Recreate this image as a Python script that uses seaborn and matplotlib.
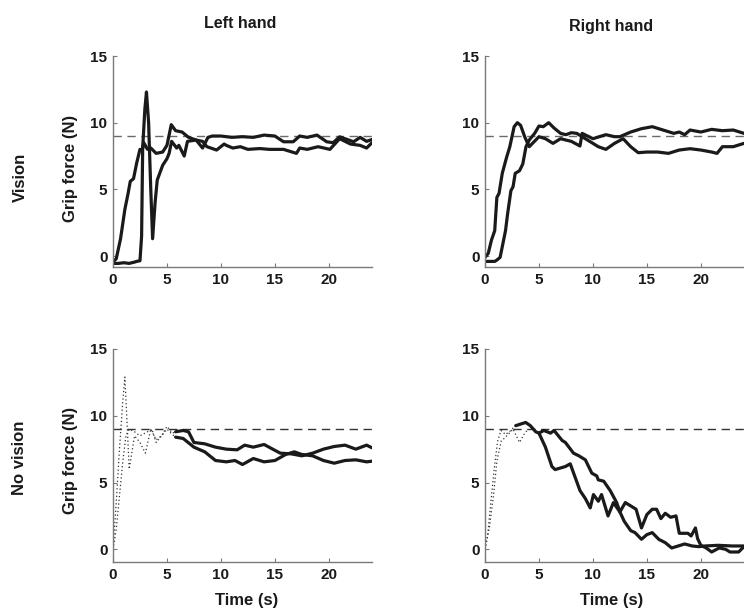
import numpy as np
import pandas as pd
import matplotlib
matplotlib.use("Agg")
import matplotlib.pyplot as plt
import seaborn as sns

# ---------------- data ----------------
target_force = 9.0
x_ticks = [0, 5, 10, 15, 20]
y_ticks = [0, 5, 10, 15]
col_titles = ["Left hand", "Right hand"]
row_titles = ["Vision", "No vision"]

# Vision, left hand
vl1_t = [0, 0.3, 0.7, 1.1, 1.4, 1.6, 1.9, 2.2, 2.5, 2.7, 2.85, 3.2, 3.5, 4.0, 4.6, 5.0, 5.4, 5.8, 6.4, 7.0,
         7.7, 8.3, 8.7, 9.6, 10.3, 10.5, 11.1, 11.8, 12.5, 13.6, 14.5, 15.8, 17.0, 17.3, 18.0, 19.0, 20.1,
         21.0, 22.0, 22.9, 23.5, 24.0]
vl1_y = [-0.45, -0.2, 1.3, 3.5, 4.7, 5.6, 5.8, 7.0, 8.0, 7.9, 8.5, 8.0, 8.1, 7.7, 7.8, 8.3, 9.85, 9.4, 9.3, 8.9,
         8.7, 8.6, 8.2, 7.95, 8.4, 8.3, 8.1, 8.2, 8.0, 8.06, 8.0, 8.0, 7.7, 8.1, 8.0, 8.2, 8.0,
         8.8, 8.4, 8.3, 8.1, 8.5]
vl2_t = [0, 0.5, 1.0, 1.5, 2.0, 2.2, 2.5, 2.65, 2.75, 2.95, 3.1, 3.3, 3.5, 3.67, 3.9, 4.1, 4.6, 5.0, 5.2,
         5.43, 5.9, 6.1, 6.6, 6.9, 7.7, 8.3, 8.8, 9.2, 10.0, 11.0, 12.0, 13.0, 14.0, 15.0, 15.8, 16.7, 17.3,
         18.0, 18.9, 19.8, 20.4, 21.0, 22.3, 22.9, 23.5, 24.0]
vl2_y = [-0.55, -0.55, -0.5, -0.55, -0.45, -0.4, -0.35, 1.5, 8.1, 11.0, 12.3, 10.0, 5.0, 1.3, 4.0, 5.7, 6.8, 7.3, 7.7,
         8.6, 8.1, 8.3, 7.5, 8.6, 8.7, 8.1, 8.9, 9.0, 9.0, 8.9, 8.95, 8.9, 9.07, 9.0, 8.57, 8.57, 9.0,
         8.9, 9.07, 8.57, 8.5, 8.94, 8.57, 8.9, 8.6, 8.74]

# Vision, right hand
vr1_t = [0, 0.3, 0.6, 0.9, 1.1, 1.3, 1.6, 2.0, 2.3, 2.7, 3.0, 3.3, 3.7, 4.1, 4.4, 5.0, 5.6, 6.3, 7.0, 8.0,
         8.8, 9.0, 10.0, 11.2, 12.0, 12.5, 13.5, 14.5, 15.5, 16.5, 17.5, 18.0, 18.5, 19.0, 20.0, 21.0, 22.0,
         23.0, 24.0]
vr1_y = [-0.1, 0.2, 1.2, 1.9, 4.4, 4.7, 6.2, 7.4, 8.2, 9.7, 10.0, 9.8, 8.9, 8.2, 8.45, 8.95, 8.8, 8.45, 8.8, 8.6,
         8.25, 9.2, 8.8, 9.1, 8.95, 8.95, 9.3, 9.55, 9.7, 9.45, 9.2, 9.3, 9.1, 9.45, 9.3, 9.5, 9.4,
         9.45, 9.2]
vr2_t = [0, 0.5, 0.9, 1.1, 1.4, 1.6, 1.9, 2.1, 2.4, 2.6, 2.8, 3.2, 3.5, 3.8, 4.1, 4.6, 5.0, 5.4, 5.9, 6.4,
         7.0, 7.5, 8.0, 8.5, 9.5, 10.5, 11.2, 12.0, 12.8, 13.5, 14.2, 15.0, 16.0, 17.0, 18.0, 19.0, 20.0,
         21.0, 21.5, 22.0, 23.0, 24.0]
vr2_y = [-0.4, -0.4, -0.4, -0.3, -0.1, 0.7, 1.9, 3.2, 4.9, 5.2, 6.2, 6.4, 6.9, 8.2, 8.7, 9.2, 9.75, 9.7, 10.0, 9.6,
         9.2, 9.1, 9.25, 9.2, 8.7, 8.2, 8.0, 8.45, 8.8, 8.2, 7.75, 7.8, 7.8, 7.7, 7.95, 8.05, 7.95,
         7.8, 7.7, 8.2, 8.2, 8.45]

# No vision, left hand (dotted early part, solid later part)
nl1_dot_t = [0, 0.3, 0.6, 0.9, 1.1, 1.3, 1.5, 2.0, 2.5, 3.0, 3.5, 4.0, 4.5, 5.0, 5.5, 5.8]
nl1_dot_y = [0, 3.5, 7.5, 11.0, 12.9, 9.5, 6.0, 8.5, 8.0, 7.2, 9.0, 8.2, 8.5, 9.2, 8.7, 8.8]
nl2_dot_t = [0, 0.3, 0.6, 0.9, 1.2, 1.5, 2.0, 2.5, 3.2, 3.6, 4.0, 4.5, 5.0, 5.5, 5.8]
nl2_dot_y = [0, 1.5, 4.0, 6.5, 8.5, 9.0, 8.8, 8.5, 8.8, 9.0, 8.0, 8.5, 9.0, 8.6, 8.4]
nl1_t = [5.8, 6.5, 7.0, 7.5, 8.5, 9.5, 10.5, 11.5, 12.2, 13.0, 14.0, 14.8, 15.5, 16.5, 17.5, 18.5, 19.5,
         20.5, 21.5, 22.5, 23.5, 24.0]
nl1_y = [8.8, 8.9, 8.8, 8.0, 7.9, 7.65, 7.5, 7.45, 7.8, 7.65, 7.85, 7.5, 7.2, 7.15, 7.0, 7.2, 7.5,
         7.7, 7.8, 7.5, 7.8, 7.6]
nl2_t = [5.8, 6.5, 7.5, 8.5, 9.5, 10.5, 11.3, 12.0, 13.0, 14.0, 15.0, 16.0, 16.8, 17.5, 18.5, 19.5, 20.5,
         21.5, 22.5, 23.5, 24.0]
nl2_y = [8.4, 8.3, 7.65, 7.3, 6.65, 6.55, 6.65, 6.35, 6.8, 6.55, 6.65, 7.1, 7.3, 7.1, 7.0, 6.65, 6.45,
         6.65, 6.7, 6.55, 6.6]

# No vision, right hand
nr1_dot_t = [0, 0.25, 0.55, 0.86, 1.17, 1.48, 1.9, 2.4, 2.85]
nr1_dot_y = [0, 1.1, 3.6, 6.1, 8.1, 8.9, 8.6, 8.9, 9.3]
nr2_dot_t = [0, 0.4, 0.8, 1.1, 1.5, 1.9, 2.6, 3.2, 3.6, 4.0]
nr2_dot_y = [0, 1.6, 4.1, 6.6, 8.1, 8.4, 9.0, 8.0, 8.6, 9.0]
nr1_t = [2.85, 3.77, 4.2, 4.7, 5.0, 5.6, 6.2, 6.5, 7.45, 7.9, 8.8, 9.3, 9.75, 10.05, 10.5, 10.8, 11.4,
         11.9, 12.5, 13.0, 13.8, 14.0, 14.5, 15.0, 15.5, 15.9, 16.3, 16.7, 17.2, 17.7, 18.0, 18.8, 19.1,
         19.5, 19.7, 20.0, 20.5, 21.0, 21.7, 22.3, 22.7, 23.5, 24.0]
nr1_y = [9.26, 9.5, 9.26, 8.8, 8.7, 7.65, 6.2, 5.97, 6.2, 6.4, 4.4, 3.8, 3.1, 4.1, 3.6, 4.1, 2.5,
         3.5, 2.8, 3.5, 3.1, 3.0, 1.6, 2.6, 3.0, 3.0, 2.3, 2.7, 2.4, 2.5, 1.2, 1.2, 1.0,
         1.6, 0.8, 0.3, 0.1, -0.2, 0.1, 0.0, -0.2, -0.2, 0.2]
nr2_t = [5.0, 5.45, 6.07, 6.4, 7.15, 7.45, 8.2, 8.7, 9.3, 9.9, 10.35, 10.5, 11.0, 11.6, 12.2, 12.5, 12.9,
         13.5, 13.9, 14.5, 15.0, 15.5, 16.1, 16.7, 17.3, 17.9, 18.5, 19.2, 19.8, 20.4, 21.6, 22.9, 24.0]
nr2_y = [8.7, 8.9, 8.7, 8.9, 8.15, 8.0, 7.2, 7.0, 6.7, 5.7, 5.5, 5.2, 5.1, 4.4, 3.5, 2.8, 2.1,
         1.4, 1.25, 0.75, 1.1, 1.25, 0.75, 0.5, 0.1, 0.25, 0.4, 0.25, 0.2, 0.25, 0.3, 0.25, 0.25]

# ---------------- styling ----------------
sns.set_theme(style="ticks")
plt.rcParams['font.family'] = ['Liberation Sans', 'DejaVu Sans']
plt.rcParams['font.weight'] = 'bold'

LINE = "#1a1a1a"
SPINE = "#7a7a7a"

fig = plt.figure(figsize=(7.44, 6.09), dpi=100)
W, H = 744.0, 609.0

def axes_px(left, top, right, bottom):
    return fig.add_axes([left / W, 1 - bottom / H, (right - left) / W, (bottom - top) / H])

ax_tl = axes_px(113, 56, 372, 267)
ax_tr = axes_px(485, 56, 744, 267)
ax_bl = axes_px(113, 349, 372, 562)
ax_br = axes_px(485, 349, 744, 562)

def solid(ax, t, y):
    sns.lineplot(x=t, y=y, ax=ax, color=LINE, lw=2.3, estimator=None, sort=False)

def dotted(ax, t, y):
    sns.lineplot(x=t, y=y, ax=ax, color="#333333", lw=0.9, linestyle=(0, (1, 2)),
                 estimator=None, sort=False)

solid(ax_tl, vl1_t, vl1_y)
solid(ax_tl, vl2_t, vl2_y)
solid(ax_tr, vr1_t, vr1_y)
solid(ax_tr, vr2_t, vr2_y)
dotted(ax_bl, nl1_dot_t, nl1_dot_y)
dotted(ax_bl, nl2_dot_t, nl2_dot_y)
solid(ax_bl, nl1_t, nl1_y)
solid(ax_bl, nl2_t, nl2_y)
dotted(ax_br, nr1_dot_t, nr1_dot_y)
dotted(ax_br, nr2_dot_t, nr2_dot_y)
solid(ax_br, nr1_t, nr1_y)
solid(ax_br, nr2_t, nr2_y)

for ax, ylo, dcol in [(ax_tl, -0.82, "#6a6a6a"), (ax_tr, -0.82, "#6a6a6a"),
                      (ax_bl, -0.95, "#333333"), (ax_br, -0.95, "#333333")]:
    ax.axhline(target_force, color=dcol, lw=1.0, dashes=(6, 4), zorder=1)
    ax.set_xlim(0, 24)
    ax.set_ylim(ylo, 15)
    ax.set_xticks(x_ticks)
    ax.set_yticks(y_ticks)
    ax.set_xlabel("")
    ax.set_ylabel("")
    ax.set_facecolor("white")
    for s in ["top", "right"]:
        ax.spines[s].set_visible(False)
    for s in ["left", "bottom"]:
        ax.spines[s].set_color(SPINE)
        ax.spines[s].set_linewidth(1.0)
    ax.tick_params(direction="in", length=3, width=0.8, color=SPINE,
                   labelsize=11, labelcolor="#1a1a1a", pad=4)
    for lab in ax.get_xticklabels() + ax.get_yticklabels():
        lab.set_fontweight("bold")

def ftext(x, y, s, size, rot=0):
    fig.text(x / W, 1 - y / H, s, fontsize=size, fontweight="bold", rotation=rot,
             ha="center", va="center", color="#1a1a1a")

ftext(240, 23, col_titles[0], 11.5)
ftext(611, 26, col_titles[1], 11.5)
ftext(20, 177, row_titles[0], 12, rot=90)
ftext(20, 458, row_titles[1], 12, rot=90)
ftext(70, 168, "Grip force (N)", 12, rot=90)
ftext(70, 460, "Grip force (N)", 12, rot=90)
ftext(247, 600, "Time (s)", 12)
ftext(612, 600, "Time (s)", 12)

fig.savefig("out.png", dpi=100, facecolor="white")
